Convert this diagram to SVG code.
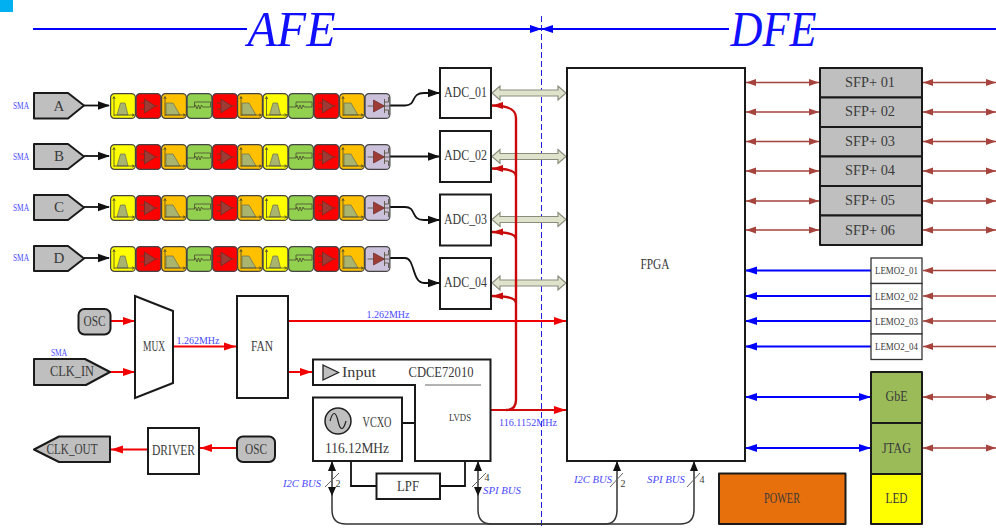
<svg xmlns="http://www.w3.org/2000/svg" width="996" height="528" viewBox="0 0 996 528">
<style>
text{font-family:"Liberation Serif","Noto Serif CJK SC",serif;fill:#3a3a3a;text-anchor:middle;dominant-baseline:central}
.b{fill:#fff;stroke:#1a1a1a;stroke-width:2}
.g{fill:#bfbfbf;stroke:#1a1a1a;stroke-width:2;stroke-linejoin:round}
.n{fill:#4a4aff;font-size:11px}
.i{fill:#4a4aff;font-size:11px;font-style:italic}
.t{fill:#1010ff;font-size:50px;font-style:italic}
.s{font-size:15px}
.l{font-size:11px}
.cell{stroke:#444;stroke-width:1.2}
.ic{fill:none;stroke:#4a4a30;stroke-width:.8}
.sh{fill:#a9b56e;stroke:#6a6a50;stroke-width:.7}
.am{fill:#9c3c34;stroke:#6a2a28;stroke-width:.7}
.k{fill:none;stroke:#111;stroke-width:1.8}
.r{fill:none;stroke:#f00000;stroke-width:2}
.dr{fill:none;stroke:#c80a0a;stroke-width:2.4}
.u{fill:none;stroke:#0000ff;stroke-width:2}
.m{fill:none;stroke:#a5433c;stroke-width:1.6}
.w{fill:none;stroke:#333;stroke-width:1.5}
.h{fill:#dfe3cc;stroke:#8a8d7c;stroke-width:1.2}
</style>
<defs>
<marker id="ak" markerUnits="userSpaceOnUse" markerWidth="12" markerHeight="10" refX="11" refY="5" orient="auto-start-reverse"><path d="M0 .8L12 5L0 9.2z" fill="#111"/></marker>
<marker id="ar" markerUnits="userSpaceOnUse" markerWidth="13" markerHeight="10" refX="12" refY="5" orient="auto-start-reverse"><path d="M0 1L12 5L0 9z" fill="#f00000"/></marker>
<marker id="ad" markerUnits="userSpaceOnUse" markerWidth="12" markerHeight="10" refX="11" refY="5" orient="auto-start-reverse"><path d="M0 1.5L11 5L0 8.5z" fill="#c80a0a"/></marker>
<marker id="au" markerUnits="userSpaceOnUse" markerWidth="12" markerHeight="10" refX="11" refY="5" orient="auto-start-reverse"><path d="M0 1L12 5L0 9z" fill="#0000ff"/></marker>
<marker id="am" markerUnits="userSpaceOnUse" markerWidth="11" markerHeight="8" refX="10" refY="4" orient="auto-start-reverse"><path d="M0 .6L10 4L0 7.4z" fill="#a5433c"/></marker>
<marker id="aw" markerUnits="userSpaceOnUse" markerWidth="10" markerHeight="10" refX="9" refY="5" orient="auto-start-reverse"><path d="M0 1L10 5L0 9z" fill="#111"/></marker>
<g id="axes"><path class="ic" d="M4 23V4M2.800 6L4 3.500L5.200 6M4 22H24M22 20.800L24.500 22L22 23.200"/></g>
<g id="yel"><rect class="cell" x=".6" y=".6" width="24.800" height="24.800" rx="4" fill="#ffff00"/><path class="sh" d="M7 22L10.500 10H15L18 22z"/><use href="#axes"/></g>
<g id="org"><rect class="cell" x=".6" y=".6" width="24.800" height="24.800" rx="4" fill="#ffc000"/><path class="sh" d="M5 10H12L19 22H5z"/><use href="#axes"/></g>
<g id="red"><rect class="cell" x=".6" y=".6" width="24.800" height="24.800" rx="4" fill="#ff0000"/><path class="am" d="M9 6L20 13L9 20z"/><path class="ic" d="M5 10H9M5 16H9M20 13H23"/></g>
<g id="grn"><rect class="cell" x=".6" y=".6" width="24.800" height="24.800" rx="4" fill="#92d050"/><path class="ic" d="M1 14H8L9 12L10.500 16L12 12L13.500 16L15 12L16 14H24V9H8V14"/></g>
<g id="lil"><rect class="cell" x=".6" y=".6" width="24.800" height="24.800" rx="4" fill="#ccc1da"/><path class="am" d="M9 7L20 13L9 19z"/><path class="ic" d="M3 13H9M20 6V20M20 9H24V4M20 17H24V22M20 13H25"/></g>
<g id="chain">
<use href="#yel" x="110"/><use href="#red" x="135.500"/><use href="#org" x="161"/><use href="#grn" x="186.500"/><use href="#red" x="212"/><use href="#org" x="237"/><use href="#yel" x="262.500"/><use href="#grn" x="288"/><use href="#red" x="313.500"/><use href="#org" x="339"/><use href="#lil" x="364.500"/>
</g>
</defs>

<rect id="corner" x="0" y="0" width="13" height="12" fill="#00b0f0"/>

<g id="connectors">
<path d="M541.500 16V528" fill="none" stroke="#2020e0" stroke-width="1" stroke-dasharray="6 3"/>
<path class="u" d="M33 29H247M333 29H541" marker-end="url(#au)"/>
<path class="u" d="M729 29H542" marker-end="url(#au)"/>
<path class="u" d="M811 29H996"/>
<path class="k" d="M84 105.500H109" marker-end="url(#ak)"/>
<path class="k" d="M84 156H109" marker-end="url(#ak)"/>
<path class="k" d="M84 207H109" marker-end="url(#ak)"/>
<path class="k" d="M84 258H109" marker-end="url(#ak)"/>
<path class="k" d="M389 105.500H405C417 105.500 410 93 424 93H439" marker-end="url(#ak)"/>
<path class="k" d="M389 156.500H439" marker-end="url(#ak)"/>
<path class="k" d="M389 207H405C417 207 410 220 424 220H439" marker-end="url(#ak)"/>
<path class="k" d="M389 258H405C415 258 412 283 424 283H439" marker-end="url(#ak)"/>
<path class="h" d="M492 93L500 86V90H558V86L566 93L558 100V96H500V100z"/>
<path class="h" d="M492 156.500L500 149.500V153.500H558V149.500L566 156.500L558 163.500V159.500H500V163.500z"/>
<path class="h" d="M492 219.500L500 212.500V216.500H558V212.500L566 219.500L558 226.500V222.500H500V226.500z"/>
<path class="h" d="M492 283L500 276V280H558V276L566 283L558 290V286H500V290z"/>
<path class="dr" d="M516 400V118C516 110 510 105.500 492 105.500" marker-end="url(#ad)"/>
<path class="dr" d="M516 176C516 172 510 168.500 492 168.500" marker-end="url(#ad)"/>
<path class="dr" d="M516 239C516 235 510 232 492 232" marker-end="url(#ad)"/>
<path class="dr" d="M516 303C516 299 510 296 492 296" marker-end="url(#ad)"/>
<path class="r" d="M491 410H566" marker-end="url(#ar)" style="stroke:#d00a0a"/>
<path class="dr" d="M516 400C516 406 513 410 506 410"/>
<path class="r" d="M110 321H135" marker-end="url(#ar)"/>
<path class="r" d="M110 372H135" marker-end="url(#ar)"/>
<path class="r" d="M173 346.500H236" marker-end="url(#ar)"/>
<path class="r" d="M288 321H566" marker-end="url(#ar)"/>
<path class="r" d="M288 372H312" marker-end="url(#ar)"/>
<path class="r" d="M148 449.500H111" marker-end="url(#ar)"/>
<path class="r" d="M237 448H200" marker-end="url(#ar)"/>
<g id="sfp-links">
<path class="m" d="M746 82.500H819" marker-start="url(#am)" marker-end="url(#am)"/><path class="m" d="M923 82.500H996" marker-start="url(#am)" marker-end="url(#am)"/>
<path class="m" d="M746 112H819" marker-start="url(#am)" marker-end="url(#am)"/><path class="m" d="M923 112H996" marker-start="url(#am)" marker-end="url(#am)"/>
<path class="m" d="M746 141.500H819" marker-start="url(#am)" marker-end="url(#am)"/><path class="m" d="M923 141.500H996" marker-start="url(#am)" marker-end="url(#am)"/>
<path class="m" d="M746 171H819" marker-start="url(#am)" marker-end="url(#am)"/><path class="m" d="M923 171H996" marker-start="url(#am)" marker-end="url(#am)"/>
<path class="m" d="M746 201H819" marker-start="url(#am)" marker-end="url(#am)"/><path class="m" d="M923 201H996" marker-start="url(#am)" marker-end="url(#am)"/>
<path class="m" d="M746 230H819" marker-start="url(#am)" marker-end="url(#am)"/><path class="m" d="M923 230H996" marker-start="url(#am)" marker-end="url(#am)"/>
</g>
<g id="lemo-links">
<path class="u" d="M871 270.500H746" marker-end="url(#au)"/><path class="m" d="M996 270.500H923" marker-end="url(#am)"/>
<path class="u" d="M871 296H746" marker-end="url(#au)"/><path class="m" d="M996 296H923" marker-end="url(#am)"/>
<path class="u" d="M871 321H746" marker-end="url(#au)"/><path class="m" d="M996 321H923" marker-end="url(#am)"/>
<path class="u" d="M871 346.500H746" marker-end="url(#au)"/><path class="m" d="M996 346.500H923" marker-end="url(#am)"/>
<path class="u" d="M746 397H870" marker-start="url(#au)" marker-end="url(#au)"/><path class="m" d="M923 397H996" marker-start="url(#am)" marker-end="url(#am)"/>
<path class="u" d="M746 448H870" marker-start="url(#au)" marker-end="url(#au)"/><path class="m" d="M923 448H996" marker-start="url(#am)" marker-end="url(#am)"/>
</g>
<g id="bus">
<path class="k" d="M402 423H415M351 461V486H376M440 486H465V461"/>
<path class="w" d="M332 462V510C332 519 337 524 346 524H605C613 524 617 519 617 510V462" marker-start="url(#aw)" marker-end="url(#aw)"/>
<path class="w" d="M478 462V510C478 519 483 524 492 524H680C689 524 694 519 694 510V462" marker-start="url(#aw)" marker-end="url(#aw)"/>
<path d="M332 496L328 487H336zM478 496L474 487H482z" fill="#111"/>
<path d="M325 487L339 473M472 487L486 473M610 487L623 473M687 487L700 473" stroke="#666" stroke-width="1" fill="none"/>
</g>
</g>

<text class="t" x="291.500" y="29" textLength="88" lengthAdjust="spacingAndGlyphs">AFE</text>
<text class="t" x="773.500" y="29" textLength="86" lengthAdjust="spacingAndGlyphs">DFE</text>

<g id="sma-a"><path class="g" d="M34 93H68L84 105.500L68 118.500H34z"/><text class="s" x="59" y="105.500">A</text><text class="n" x="21" y="105" textLength="16" lengthAdjust="spacingAndGlyphs">SMA</text></g>
<g id="sma-b"><path class="g" d="M34 144H68L84 156.500L68 169H34z"/><text class="s" x="59" y="155.500">B</text><text class="n" x="21" y="156" textLength="16" lengthAdjust="spacingAndGlyphs">SMA</text></g>
<g id="sma-c"><path class="g" d="M34 195H68L84 207.500L68 220H34z"/><text class="s" x="59" y="206.500">C</text><text class="n" x="21" y="207" textLength="16" lengthAdjust="spacingAndGlyphs">SMA</text></g>
<g id="sma-d"><path class="g" d="M34 246H68L84 258.500L68 271H34z"/><text class="s" x="59" y="257.500">D</text><text class="n" x="21" y="257" textLength="16" lengthAdjust="spacingAndGlyphs">SMA</text></g>

<g id="chain-a"><use href="#chain" y="93"/></g>
<g id="chain-b"><use href="#chain" y="144"/></g>
<g id="chain-c"><use href="#chain" y="195"/></g>
<g id="chain-d"><use href="#chain" y="246"/></g>

<g id="adc-01"><rect class="b" x="440" y="68" width="51" height="50"/><text class="s" x="465.500" y="92" textLength="43" lengthAdjust="spacingAndGlyphs">ADC_01</text></g>
<g id="adc-02"><rect class="b" x="440" y="131" width="51" height="51"/><text class="s" x="465.500" y="155" textLength="43" lengthAdjust="spacingAndGlyphs">ADC_02</text></g>
<g id="adc-03"><rect class="b" x="440" y="194.500" width="51" height="51"/><text class="s" x="465.500" y="219" textLength="43" lengthAdjust="spacingAndGlyphs">ADC_03</text></g>
<g id="adc-04"><rect class="b" x="440" y="258" width="51" height="51"/><text class="s" x="465.500" y="282" textLength="43" lengthAdjust="spacingAndGlyphs">ADC_04</text></g>

<g id="fpga"><rect class="b" x="567" y="68" width="178" height="393"/><text class="s" x="655" y="264" textLength="29" lengthAdjust="spacingAndGlyphs">FPGA</text></g>

<g id="sfp-01"><rect class="g" x="820" y="68" width="102" height="29.500"/><text class="s" x="870" y="82" textLength="50" lengthAdjust="spacingAndGlyphs">SFP+ 01</text></g>
<g id="sfp-02"><rect class="g" x="820" y="97.500" width="102" height="29.500"/><text class="s" x="870" y="111" textLength="50" lengthAdjust="spacingAndGlyphs">SFP+ 02</text></g>
<g id="sfp-03"><rect class="g" x="820" y="127" width="102" height="29.500"/><text class="s" x="870" y="141" textLength="50" lengthAdjust="spacingAndGlyphs">SFP+ 03</text></g>
<g id="sfp-04"><rect class="g" x="820" y="156.500" width="102" height="29.500"/><text class="s" x="870" y="170" textLength="50" lengthAdjust="spacingAndGlyphs">SFP+ 04</text></g>
<g id="sfp-05"><rect class="g" x="820" y="186" width="102" height="29.500"/><text class="s" x="870" y="200" textLength="50" lengthAdjust="spacingAndGlyphs">SFP+ 05</text></g>
<g id="sfp-06"><rect class="g" x="820" y="215.500" width="102" height="29.500"/><text class="s" x="870" y="230" textLength="50" lengthAdjust="spacingAndGlyphs">SFP+ 06</text></g>

<g id="lemo-01"><rect class="b" style="stroke-width:1.300;stroke:#333" x="871" y="258" width="51" height="25.500"/><text class="l" x="896.500" y="270" textLength="43" lengthAdjust="spacingAndGlyphs">LEMO2_01</text></g>
<g id="lemo-02"><rect class="b" style="stroke-width:1.300;stroke:#333" x="871" y="283.500" width="51" height="25.500"/><text class="l" x="896.500" y="295.500" textLength="43" lengthAdjust="spacingAndGlyphs">LEMO2_02</text></g>
<g id="lemo-03"><rect class="b" style="stroke-width:1.300;stroke:#333" x="871" y="309" width="51" height="25"/><text class="l" x="896.500" y="320.500" textLength="43" lengthAdjust="spacingAndGlyphs">LEMO2_03</text></g>
<g id="lemo-04"><rect class="b" style="stroke-width:1.300;stroke:#333" x="871" y="334" width="51" height="25.500"/><text class="l" x="896.500" y="346" textLength="43" lengthAdjust="spacingAndGlyphs">LEMO2_04</text></g>

<g id="gbe"><rect class="g" x="871" y="372" width="51" height="51" style="fill:#9bbb59"/><text class="s" x="896.500" y="396" textLength="22" lengthAdjust="spacingAndGlyphs">GbE</text></g>
<g id="jtag"><rect class="g" x="871" y="423" width="51" height="51" style="fill:#9bbb59"/><text class="s" x="896.500" y="447.500" textLength="29" lengthAdjust="spacingAndGlyphs">JTAG</text></g>
<g id="led"><rect class="g" x="871" y="474" width="51" height="50" style="fill:#ffff00"/><text class="s" x="896.500" y="498" textLength="22" lengthAdjust="spacingAndGlyphs">LED</text></g>
<g id="power"><rect class="g" x="719" y="473.500" width="126.500" height="50.500" style="fill:#e8700c"/><text class="s" x="782" y="498" textLength="36" lengthAdjust="spacingAndGlyphs">POWER</text></g>

<g id="osc-1"><rect class="g" x="78.500" y="309" width="32" height="25.500" rx="6"/><text class="s" x="94.500" y="321" textLength="22" lengthAdjust="spacingAndGlyphs">OSC</text></g>
<g id="clk-in"><path class="g" d="M34 359H85L110 372L86 385H34z"/><text class="s" x="72" y="371" textLength="44" lengthAdjust="spacingAndGlyphs">CLK_IN</text><text class="n" x="59" y="352" textLength="16" lengthAdjust="spacingAndGlyphs">SMA</text></g>
<g id="mux"><path class="b" d="M135 296L173 311V383L135 398z"/><text class="s" x="154" y="346" textLength="22" lengthAdjust="spacingAndGlyphs">MUX</text></g>
<text class="n" x="198" y="339.500" textLength="43" lengthAdjust="spacingAndGlyphs">1.262MHz</text>
<g id="fan"><rect class="b" x="237" y="296" width="51" height="102"/><text class="s" x="262" y="346" textLength="22" lengthAdjust="spacingAndGlyphs">FAN</text></g>
<text class="n" x="388" y="314" textLength="43" lengthAdjust="spacingAndGlyphs">1.262MHz</text>

<g id="cdce"><path class="b" d="M313 359.500H490.500V461H415V385H313z"/>
<path d="M323 365L338.500 372.500L323 380z" fill="#bfbfbf" stroke="#222" stroke-width="1.300"/>
<text class="s" x="359" y="372" textLength="34" lengthAdjust="spacingAndGlyphs">Input</text>
<text class="s" x="441" y="372" textLength="65" lengthAdjust="spacingAndGlyphs">CDCE72010</text>
<path d="M425 385H481" stroke="#666" stroke-width="1" fill="none"/>
<text x="460" y="417" font-size="11" textLength="22" lengthAdjust="spacingAndGlyphs">LVDS</text></g>
<text class="n" x="528" y="422" textLength="58" lengthAdjust="spacingAndGlyphs">116.1152MHz</text>
<g id="vcxo"><rect class="b" x="313" y="397.500" width="89" height="63.500"/>
<circle cx="338" cy="421" r="13" fill="#bfbfbf" stroke="#222" stroke-width="1.500"/>
<path d="M330 421C333 410 336 412 338 421C340 430 343 432 346 421" fill="none" stroke="#222" stroke-width="1.200"/>
<text class="s" x="377" y="422" textLength="29" lengthAdjust="spacingAndGlyphs">VCXO</text>
<text class="s" x="357" y="447.500" textLength="64" lengthAdjust="spacingAndGlyphs">116.12MHz</text></g>
<g id="lpf"><rect class="b" x="376.500" y="473.500" width="63.500" height="25.500"/><text class="s" x="408" y="486" textLength="22" lengthAdjust="spacingAndGlyphs">LPF</text></g>

<text class="i" x="302" y="483" textLength="38" lengthAdjust="spacingAndGlyphs">I2C BUS</text>
<text x="338" y="483" font-size="10">2</text>
<text class="i" x="502" y="490" textLength="38" lengthAdjust="spacingAndGlyphs">SPI BUS</text>
<text x="487" y="477" font-size="10">4</text>
<text class="i" x="593" y="479" textLength="38" lengthAdjust="spacingAndGlyphs">I2C BUS</text>
<text x="623" y="483" font-size="10">2</text>
<text class="i" x="666" y="479" textLength="38" lengthAdjust="spacingAndGlyphs">SPI BUS</text>
<text x="702" y="479" font-size="10">4</text>

<g id="clk-out"><path class="g" d="M34 449.500L59 436.500H110V462H59z"/><text class="s" x="72" y="449" textLength="51" lengthAdjust="spacingAndGlyphs">CLK_OUT</text></g>
<g id="driver"><rect class="b" x="148" y="428" width="51" height="46"/><text class="s" x="173.500" y="450" textLength="43" lengthAdjust="spacingAndGlyphs">DRIVER</text></g>
<g id="osc-2"><rect class="g" x="237" y="436.500" width="38" height="25.500" rx="6"/><text class="s" x="256" y="449" textLength="22" lengthAdjust="spacingAndGlyphs">OSC</text></g>
</svg>
